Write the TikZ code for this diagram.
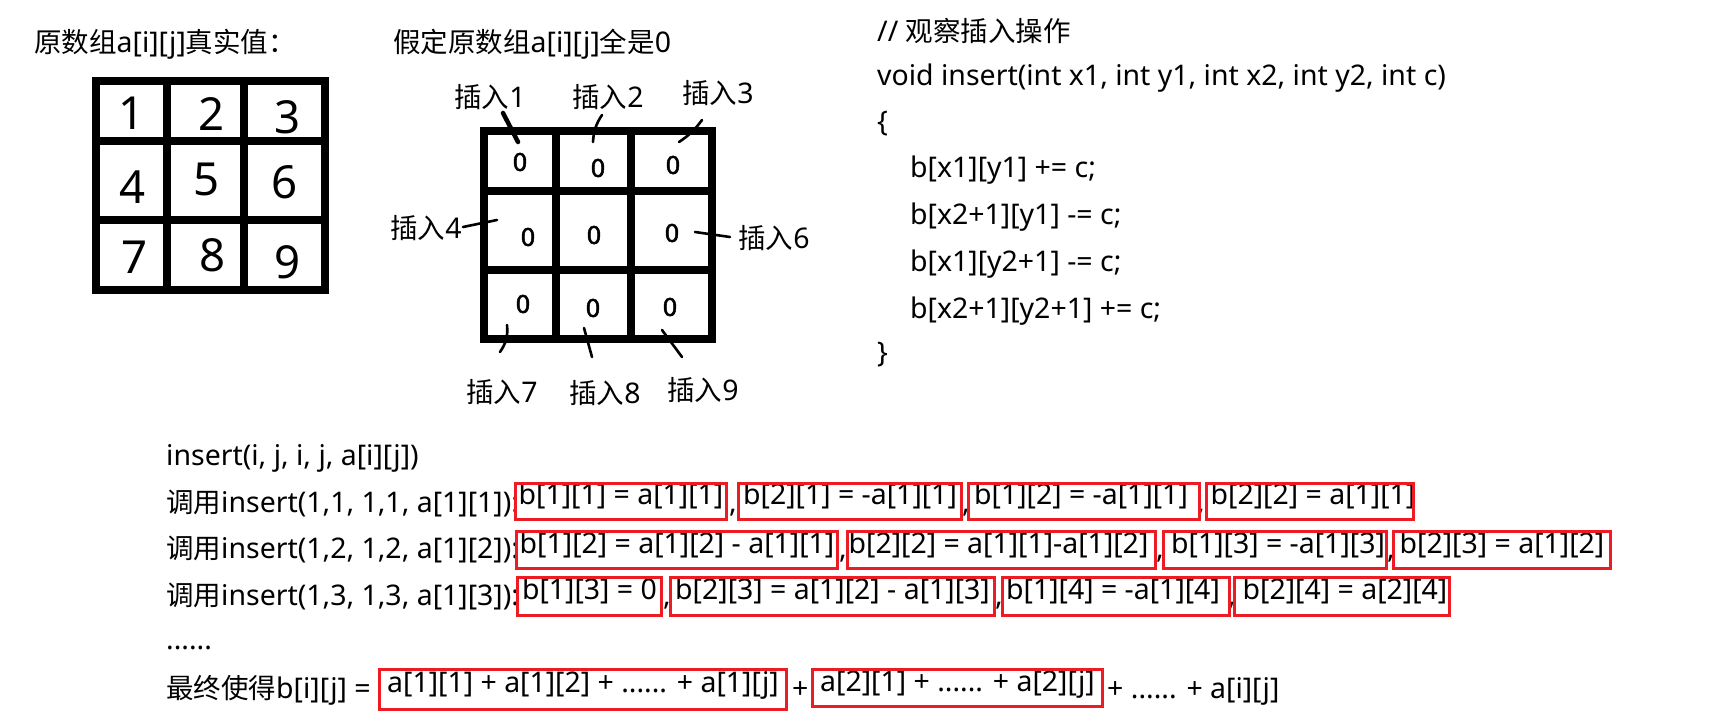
\documentclass[tikz,border=0pt]{standalone}
\usepackage{fontspec}
\setmainfont{Noto Sans}[Scale=1.035]
\newfontfamily\cjk{Noto Sans CJK SC}
\newfontfamily\penfont{Noto Sans}[FakeBold=2]
\newcommand\zh[1]{{\cjk #1}}
\definecolor{boxred}{HTML}{ED1C24}

\begin{document}
\begin{tikzpicture}[
            x = 1pt, y = -1pt, % one unit per pixel, y downwards
            line join = miter,
            txt/.style = {font=\fontsize{27.5}{33}\selectfont, inner sep=0pt, anchor=base west},
            lbl/.style = {font=\fontsize{27.5}{33}\selectfont, inner sep=0pt},
            digit/.style = {font=\fontsize{44}{50}\selectfont, inner sep=0pt},
            zero/.style = {font=\penfont\fontsize{25}{28}\selectfont, inner sep=0pt},
            gridline/.style = {line width=7.5pt},
            tick/.style = {line width=2.6pt, line cap=round},
            term/.style = {font=\fontsize{27.5}{33}\selectfont, inner sep=0pt,
                           text height=0.8em, text depth=0.145em},
            redbox/.style = {draw=boxred, line width=3pt} % painted frames
        ]

        \useasboundingbox (0,0) rectangle (1715,722);

        % titles
        \node[txt] (titleA) at (34,53) {\zh{原数组}a[i][j]\zh{真实值：}};
        \node[txt] (titleB) at (393,53) {\zh{假定原数组}a[i][j]\zh{全是}0};

        % real values
        \draw[gridline] (96,81) rectangle (325,290);
        \draw[gridline] (167,81) -- (167,290) (244,81) -- (244,290)
                        (96,141) -- (325,141) (96,220) -- (325,220);
        \node[digit] (v1) at (132,113) {1};
        \node[digit] (v2) at (212,114) {2};
        \node[digit] (v3) at (288,117) {3};
        \node[digit] (v4) at (133,187) {4};
        \node[digit] (v5) at (207,179) {5};
        \node[digit] (v6) at (285,182) {6};
        \node[digit] (v7) at (135,257) {7};
        \node[digit] (v8) at (213,255) {8};
        \node[digit] (v9) at (288,262) {9};

        % all zero
        \draw[gridline] (484,131) rectangle (712,339);
        \draw[gridline] (556,131) -- (556,339) (631,131) -- (631,339)
                        (484,191) -- (712,191) (484,270) -- (712,270);
        \node[zero] (z1) at (520,162) {0};
        \node[zero] (z2) at (598,168) {0};
        \node[zero] (z3) at (673,165) {0};
        \node[zero] (z4) at (528,237) {0};
        \node[zero] (z5) at (594,235) {0};
        \node[zero] (z6) at (672,233) {0};
        \node[zero] (z7) at (523,304) {0};
        \node[zero] (z8) at (593,308) {0};
        \node[zero] (z9) at (670,307) {0};

        \node[lbl] (ins1) at (490,97) {\zh{插入}1};
        \node[lbl] (ins2) at (608,97) {\zh{插入}2};
        \node[lbl] (ins3) at (718,93) {\zh{插入}3};
        \node[lbl] (ins4) at (426,228) {\zh{插入}4};
        \node[lbl] (ins6) at (774,238) {\zh{插入}6};
        \node[lbl] (ins7) at (502,392) {\zh{插入}7};
        \node[lbl] (ins8) at (605,393) {\zh{插入}8};
        \node[lbl] (ins9) at (703,390) {\zh{插入}9};

        \path (503,113) coordinate (p1) (518,142) coordinate (q1)
              (602,115) coordinate (p2) (593,142) coordinate (q2)
              (702,120) coordinate (p3) (679,142) coordinate (q3)
              (463,227) coordinate (p4) (497,220) coordinate (q4)
              (730,237) coordinate (p6) (695,232) coordinate (q6)
              (500,352) coordinate (p7) (507,325) coordinate (q7)
              (592,357) coordinate (p8) (584,328) coordinate (q8)
              (682,357) coordinate (p9) (662,330) coordinate (q9);
        \draw[tick, line width=4.5pt] (p1) -- (q1);
        \draw[tick] (p2) to[bend right=15] (q2);
        \draw[tick] (p3) to[bend left=10] (q3);
        \draw[tick] (p4) -- (q4);
        \draw[tick] (p6) -- (q6);
        \draw[tick] (p7) to[bend right=20] (q7);
        \draw[tick] (p8) -- (q8);
        \draw[tick] (p9) -- (q9);

        % insert function
        \node[txt] (cmt) at (877,42) {// \zh{观察插入操作}};
        \node[txt] (sig) at (877,86) {void insert(int x1, int y1, int x2, int y2, int c)};
        \node[txt] (lbrace) at (877,132) {\{};
        \node[txt] (op1) at (910,178) {b[x1][y1] += c;};
        \node[txt] (op2) at (910,225) {b[x2+1][y1] -= c;};
        \node[txt] (op3) at (910,271) {b[x1][y2+1] -= c;};
        \node[txt] (op4) at (910,318) {b[x2+1][y2+1] += c;};
        \node[txt] (rbrace) at (877,362) {\}};

        % calls
        \node[txt] (call0) at (166,465) {insert(i, j, i, j, a[i][j])};
        \node[txt] (call1) at (166,512) {\zh{调用}insert(1,1, 1,1, a[1][1]):};
        \node[txt] (call2) at (166,558) {\zh{调用}insert(1,2, 1,2, a[1][2]):};
        \node[txt] (call3) at (166,605) {\zh{调用}insert(1,3, 1,3, a[1][3]):};
        \node[txt] (dots) at (166,649) {......};
        \node[txt] (final) at (166,698) {\zh{最终使得}b[i][j] =};

        \node[term] (r1a) at (621,501.5) {b[1][1] = a[1][1]};
        \node[term] (r1b) at (850,501.5) {b[2][1] = -a[1][1]};
        \node[term] (r1c) at (1081,501.5) {b[1][2] = -a[1][1]};
        \node[term] (r1d) at (1313,501.5) {b[2][2] = a[1][1]};

        \node[term] (r2a) at (677,550) {b[1][2] = a[1][2] - a[1][1]};
        \node[term] (r2b) at (998.5,550) {b[2][2] = a[1][1]-a[1][2]};
        \node[term] (r2c) at (1278,550) {b[1][3] = -a[1][3]};
        \node[term] (r2d) at (1502,550) {b[2][3] = a[1][2]};

        \node[term] (r3a) at (589.5,596.5) {b[1][3] = 0};
        \node[term] (r3b) at (832.5,596.5) {b[2][3] = a[1][2] - a[1][3]};
        \node[term] (r3c) at (1113,596.5) {b[1][4] = -a[1][4]};
        \node[term] (r3d) at (1345,596.5) {b[2][4] = a[2][4]};

        \node[term] (sumA) at (583,689.5) {a[1][1] + a[1][2] + ...... + a[1][j]};
        \node[txt] (plus) at (792,698) {+};
        \node[term] (sumB) at (957.5,688) {a[2][1] + ...... + a[2][j]};
        \node[txt] (rest) at (1107,698) {+ ...... + a[i][j]};

        \node[txt] (sep1a) at (729,512) {,};
        \node[txt] (sep1b) at (962,512) {,};
        \node[txt] (sep1c) at (1197,512) {,};
        \node[txt] (sep2a) at (839,558) {,};
        \node[txt] (sep2b) at (1156,558) {,};
        \node[txt] (sep2c) at (1387,558) {,};
        \node[txt] (sep3a) at (663,605) {,};
        \node[txt] (sep3b) at (995,605) {,};
        \node[txt] (sep3c) at (1228,605) {,};

        % red frames round the terms
        \draw[redbox] (515.5,483.5) rectangle ++(211,36);
        \draw[redbox] (738.5,483.5) rectangle ++(223,36);
        \draw[redbox] (968.5,483.5) rectangle ++(231,36);
        \draw[redbox] (1206.5,483.5) rectangle ++(207,36);
        \draw[redbox] (516.5,531.5) rectangle ++(321,37);
        \draw[redbox] (847.5,531.5) rectangle ++(308,37);
        \draw[redbox] (1163.5,531.5) rectangle ++(223,37);
        \draw[redbox] (1393.5,531.5) rectangle ++(217,37);
        \draw[redbox] (517.5,577.5) rectangle ++(144,38);
        \draw[redbox] (670.5,577.5) rectangle ++(324,38);
        \draw[redbox] (1002.5,577.5) rectangle ++(227,38);
        \draw[redbox] (1234.5,577.5) rectangle ++(215,38);
        \draw[redbox] (379.5,669.5) rectangle ++(407,40);
        \draw[redbox] (812.5,669.5) rectangle ++(290,37);
    \end{tikzpicture}
\end{document}
